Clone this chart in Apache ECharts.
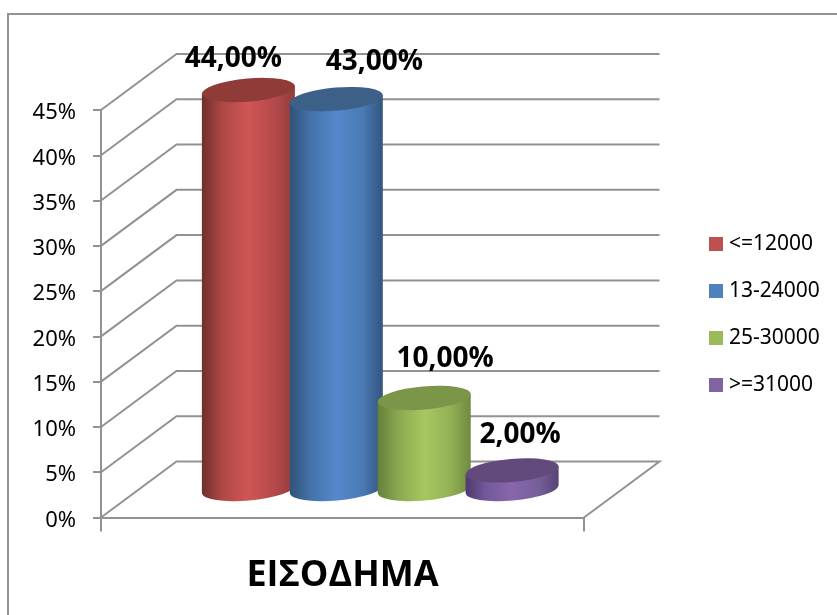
<!DOCTYPE html>
<html>
<head>
<meta charset="utf-8">
<style>html,body{margin:0;padding:0;background:#fff}#c{width:837px;height:615px}</style>
<script src="https://cdn.jsdelivr.net/npm/echarts@6/dist/echarts.min.js"></script>
</head>
<body>
<div id="c"></div>
<script>
const categories = ['ΕΙΣΟΔΗΜΑ'];
const seriesNames = ['<=12000', '13-24000', '25-30000', '>=31000'];
const seriesValues = [44, 43, 10, 2];
const tickValues = [0, 5, 10, 15, 20, 25, 30, 35, 40, 45];

// Styling and layout of the fake 3D projection
const swatch = ['#c0504d', '#4f81bd', '#9bbb59', '#8064a2'];
const bodyStops = [
  ['#6e2f2d', '#ad4845', '#cf5654', '#b5494a', '#8f3d3a'],
  ['#2f5275', '#4272a8', '#5588cc', '#4a7ab5', '#34557e'],
  ['#66803a', '#8aa850', '#a6c85f', '#93b155', '#6f8a3f'],
  ['#4d3a6b', '#73599a', '#8866ab', '#75609a', '#574375']
];
const topColor = ['#8f3b38', '#3d6088', '#7b9648', '#624a7c'];
const labelNudge = [[-15, -31], [38, -37], [21, -39], [8, -35]];
const DEPTH_X = 75.5, DEPTH_Y = 56;
const GREY = '#929292';
const TILT = -5, RX = 46.5, RY = 11.5;
const SLOPE = RX * Math.sin(TILT * Math.PI / 180);

function wallItem(params, api) {
  const p = api.coord([0, api.value(1)]);
  const band = api.size([1, 0])[0];
  const x0 = p[0] - band / 2, x1 = p[0] + band / 2;
  const points = [[x0, p[1]], [x0 + DEPTH_X, p[1] - DEPTH_Y], [x1 + DEPTH_X, p[1] - DEPTH_Y]];
  if (api.value(1) === 0) points.push([x1, p[1]]);
  return {
    type: 'polyline',
    shape: { points },
    style: { fill: 'none', stroke: GREY, lineWidth: 2 },
    silent: true
  };
}

function cylinderItem(idx) {
  return function (params, api) {
    const value = api.value(1);
    const top = api.coord([0, value]);
    const base = api.coord([0, 0]);
    const band = api.size([1, 0])[0];
    const cx = top[0] + DEPTH_X / 2 + (idx - 1.5) * band * 0.182;
    const ty = top[1] - 29, by = base[1] - 28.5;
    const lx = cx - RX, rx = cx + RX;
    const arc = `A${RX} ${RY} ${TILT} 0 0`;
    const body = `M${lx} ${ty - SLOPE}L${lx} ${by - SLOPE}${arc} ${rx} ${by + SLOPE}L${rx} ${ty + SLOPE}Z`;
    const cap = `M${lx} ${ty - SLOPE}${arc} ${rx} ${ty + SLOPE}${arc} ${lx} ${ty - SLOPE}Z`;
    const stops = bodyStops[idx];
    return {
      type: 'group',
      children: [
        {
          type: 'path',
          shape: { pathData: body },
          style: {
            fill: {
              type: 'linear', x: 0, y: 0, x2: 1, y2: 0,
              colorStops: [
                { offset: 0, color: stops[0] }, { offset: 0.22, color: stops[1] },
                { offset: 0.5, color: stops[2] }, { offset: 0.78, color: stops[3] },
                { offset: 1, color: stops[4] }
              ]
            }
          }
        },
        { type: 'path', shape: { pathData: cap }, style: { fill: topColor[idx] } },
        {
          type: 'text',
          z2: 50,
          style: {
            text: value.toFixed(2).replace('.', ',') + '%',
            x: cx + labelNudge[idx][0],
            y: ty + labelNudge[idx][1],
            align: 'center', verticalAlign: 'middle',
            font: 'bold 28px "Open Sans"', fill: '#000'
          }
        }
      ]
    };
  };
}

const chart = echarts.init(document.getElementById('c'), null, { renderer: 'canvas' });
chart.setOption({
  animation: false,
  backgroundColor: '#fff',
  textStyle: { fontFamily: '"Noto Sans"' },
  graphic: [{
    type: 'rect', silent: true, z: -1,
    shape: { x: 8, y: 14, width: 900, height: 700 },
    style: { fill: 'none', stroke: GREY, lineWidth: 2 }
  }],
  grid: { left: 101, right: 253, top: 110, bottom: 97.5 },
  legend: {
    data: seriesNames, orient: 'vertical', left: 704, top: 228.5,
    icon: 'rect', itemWidth: 14, itemHeight: 14, itemGap: 26,
    textStyle: { fontSize: 21, color: '#000', fontFamily: '"Noto Sans"', padding: [0, 0, 0, 1] }
  },
  xAxis: {
    type: 'category', data: categories,
    name: categories[0], nameLocation: 'middle', nameGap: 40,
    nameTextStyle: { fontSize: 36, fontWeight: 'bold', color: '#000', fontFamily: '"Open Sans"' },
    axisLabel: { show: false },
    axisTick: { show: true, length: 14, lineStyle: { color: GREY, width: 2 } },
    axisLine: { lineStyle: { color: GREY, width: 2 } }
  },
  yAxis: {
    type: 'value', min: 0, max: 45, interval: 5,
    axisLabel: {
      formatter: '{a|{value}%}', margin: 25,
      rich: { a: { fontSize: 22, color: '#000', fontFamily: '"Noto Sans"', padding: [6, 0, 0, 0] } }
    },
    axisTick: { show: true, length: 8, lineStyle: { color: GREY, width: 2 } },
    axisLine: { show: true, lineStyle: { color: GREY, width: 2 } },
    splitLine: { show: false }
  },
  series: [
    {
      type: 'custom', name: 'wall', silent: true, z: 1,
      data: tickValues.map(v => [0, v]),
      renderItem: wallItem
    }
  ].concat(seriesNames.map((name, i) => ({
    type: 'custom', name, z: 2 + i,
    itemStyle: { color: swatch[i] },
    data: [[0, seriesValues[i]]],
    renderItem: cylinderItem(i)
  })))
});
</script>
</body>
</html>
